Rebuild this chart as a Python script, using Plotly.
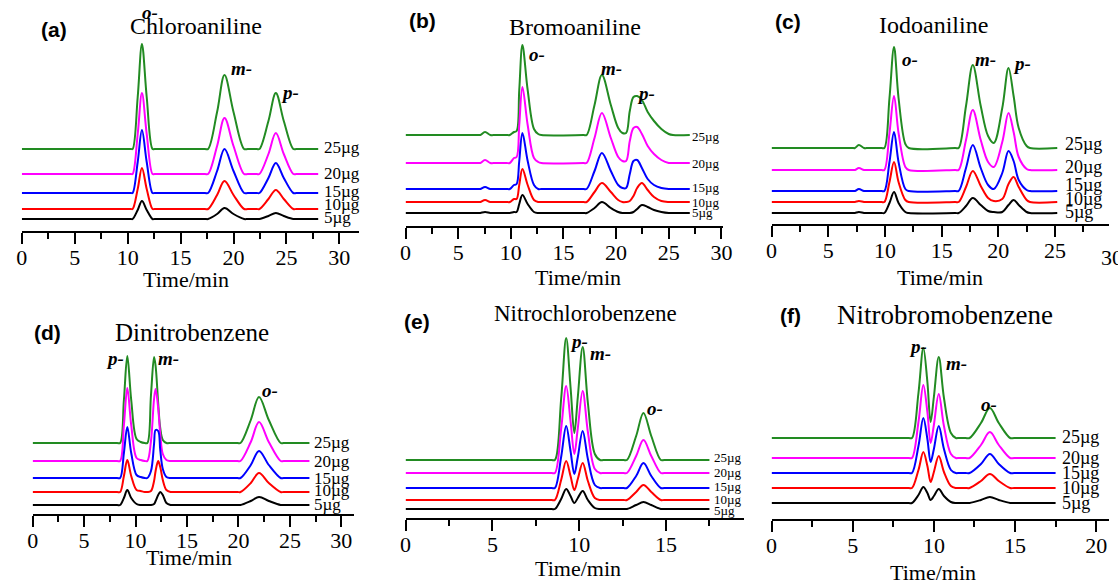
import plotly.graph_objects as go

W, H = 1118, 581

conc_labels = ["25µg", "20µg", "15µg", "10µg", "5µg"]
colors = ["#228B22", "#FF00FF", "#0000FF", "#FF0000", "#000000"]

# ---------------- data (retention time in min, signal above each trace's own baseline) ----------------
# (a) Chloroaniline
a_time = [0, 10.3, 10.47, 10.95, 11.35, 11.8, 12.35, 12.55, 17.3, 17.6, 18.45, 19.15, 20.0, 21.0, 21.35,
          22.2, 22.45, 23.3, 24.0, 24.75, 25.65, 25.95, 28.0]
a_25 = [0, 0, 0, 52, 105, 52, 0, 0, 0, 0, 37, 74, 37, 0, 0, 0, 0, 28, 56, 28, 0, 0, 0]
a_20 = [0, 0, 0, 40, 81, 40, 0, 0, 0, 0, 28, 56, 28, 0, 0, 0, 0, 20, 41, 20, 0, 0, 0]
a_15 = [0, 0, 0, 31, 63, 31, 0, 0, 0, 0, 22, 44, 22, 0, 0, 0, 0, 15, 30, 15, 0, 0, 0]
a_10 = [0, 0, 0, 20, 41, 20, 0, 0, 0, 0, 14, 28, 14, 0, 0, 0, 0, 10, 19, 10, 0, 0, 0]
a_5 = [0, 0, 0, 9, 18, 9, 0, 0, 0, 0, 5, 11, 5, 0, 0, 0, 0, 3, 6, 3, 0, 0, 0]
a_offset = [82, 57, 38, 22, 12]
a_peaks = ["o-", "m-", "p-"]

# (b) Bromoaniline
b_time = [0, 6.9, 7.1, 7.55, 8.05, 8.5, 8.8, 9.6, 9.9, 10.3, 10.55, 10.8, 11.1, 11.6, 12.2, 12.6, 12.9,
          16.9, 17.2, 17.95, 18.65, 19.5, 20.2, 20.6, 20.95, 21.3, 21.65, 22.0, 22.45, 23.0, 23.6, 24.3,
          25.0, 25.4, 27.0]
b_25 = [0, 0, 0, 3, 0, 0, 0, 0, 0, 3, 4, 45, 90, 45, 6, 1, 0, 0, 0, 30, 60, 30, 7, 2,
        2, 24, 38, 39, 35, 23, 14, 6, 1, 0, 0]
b_20 = [0, 0, 0, 3, 0, 0, 0, 0, 0, 5, 6, 38, 76, 38, 5, 1, 0, 0, 0, 25, 50, 25, 6, 2,
        2, 22, 35, 36, 29, 17, 9, 3, 0, 0, 0]
b_15 = [0, 0, 0, 2, 0, 0, 0, 0, 0, 4, 5, 28, 56, 28, 4, 0, 0, 0, 0, 18, 36, 18, 4, 1,
        1, 15, 28, 29, 21, 10, 4, 1, 0, 0, 0]
b_10 = [0, 0, 0, 2, 0, 0, 0, 0, 0, 3, 3, 17, 33, 17, 2, 0, 0, 0, 0, 10, 19, 10, 2, 0,
        0, 1, 6, 14, 19, 12, 5, 1, 0, 0, 0]
b_5 = [0, 0, 0, 1, 0, 0, 0, 0, 0, 1, 1, 9, 18, 9, 1, 0, 0, 0, 0, 5, 11, 5, 1, 0,
       0, 0, 1, 4, 8, 6, 3, 1, 0, 0, 0]
b_offset = [91, 63, 37, 24, 13]
b_peaks = ["o-", "m-", "p-"]

# (c) Iodoaniline
c_time = [0, 7.1, 7.35, 7.7, 8.15, 8.5, 8.8, 9.7, 9.95, 10.4, 10.8, 11.2, 11.8, 12.1, 16.2, 16.5, 17.15,
          17.75, 18.45, 19.1, 19.6, 20.35, 20.9, 21.35, 21.8, 22.5, 22.8, 25.2]
c_25 = [0, 0, 0, 3, 0, 0, 0, 0, 0, 50, 101, 50, 4, 0, 0, 0, 42, 83, 42, 12, 5, 40, 80, 52, 20, 2, 0, 0]
c_20 = [0, 0, 0, 2, 0, 0, 0, 0, 0, 37, 74, 37, 3, 0, 0, 0, 30, 60, 30, 8, 3, 28, 57, 38, 13, 1, 0, 0]
c_15 = [0, 0, 0, 2, 0, 0, 0, 0, 0, 29, 59, 29, 2, 0, 0, 0, 23, 46, 23, 6, 2, 18, 40, 30, 11, 1, 0, 0]
c_10 = [0, 0, 0, 1, 0, 0, 0, 0, 0, 20, 40, 20, 2, 0, 0, 0, 15, 31, 16, 4, 1, 3, 18, 25, 15, 2, 0, 0]
c_5 = [0, 0, 0, 1, 0, 0, 0, 0, 0, 10, 21, 10, 1, 0, 0, 0, 7, 15, 8, 2, 1, 1, 8, 13, 8, 1, 0, 0]
c_offset = [76, 54, 33, 22, 11]
c_peaks = ["o-", "m-", "p-"]

# (d) Dinitrobenzene
d_time = [0, 8.2, 8.5, 8.87, 9.2, 9.58, 10.1, 10.5, 10.9, 11.15, 11.5, 11.8, 11.95, 12.2, 12.4, 12.65,
          13.0, 13.4, 13.7, 19.9, 20.2, 21.2, 22.0, 22.95, 24.1, 24.4, 26.9]
d_25 = [0, 0, 0, 43, 87, 43, 4, 1, 0, 0, 48, 86, 77, 40, 15, 3, 0, 0, 0, 0, 0, 23, 46, 23, 0, 0, 0]
d_20 = [0, 0, 0, 36, 73, 36, 3, 1, 0, 0, 20, 62, 72, 53, 27, 7, 1, 0, 0, 0, 0, 19, 39, 19, 0, 0, 0]
d_15 = [0, 0, 0, 25, 51, 25, 3, 1, 0, 0, 7, 34, 48, 47, 28, 9, 1, 0, 0, 0, 0, 13, 27, 13, 0, 0, 0]
d_10 = [0, 0, 0, 16, 32, 16, 2, 1, 0, 0, 1, 11, 21, 31, 25, 12, 2, 0, 0, 0, 0, 9, 19, 9, 0, 0, 0]
d_5 = [0, 0, 0, 7, 15, 7, 1, 0, 0, 0, 0, 1, 4, 10, 13, 10, 2, 0, 0, 0, 0, 4, 8, 4, 0, 0, 0]
d_offset = [71, 53, 36, 22, 9]
d_peaks = ["p-", "m-", "o-"]

# (e) Nitrochlorobenzene
e_time = [0, 8.4, 8.6, 8.96, 9.25, 9.5, 9.72, 9.92, 10.2, 10.5, 10.9, 11.2, 11.4,
          12.55, 12.75, 13.28, 13.7, 14.15, 14.7, 14.9, 17.5]
e_25 = [0, 0, 0, 61, 122, 73, 27, 63, 113, 57, 6, 0, 0, 0, 0, 24, 47, 24, 0, 0, 0]
e_20 = [0, 0, 0, 44, 87, 52, 19, 45, 82, 41, 4, 0, 0, 0, 0, 17, 33, 17, 0, 0, 0]
e_15 = [0, 0, 0, 31, 62, 37, 14, 31, 57, 29, 3, 0, 0, 0, 0, 12, 25, 12, 0, 0, 0]
e_10 = [0, 0, 0, 20, 39, 24, 10, 21, 37, 19, 2, 0, 0, 0, 0, 8, 15, 8, 0, 0, 0]
e_5 = [0, 0, 0, 10, 20, 13, 6, 11, 18, 9, 1, 0, 0, 0, 0, 4, 7, 4, 0, 0, 0]
e_offset = [58, 45, 30, 18, 9]
e_peaks = ["p-", "m-", "o-"]

# (f) Nitrobromobenzene
f_time = [0, 8.45, 8.65, 9.05, 9.35, 9.6, 9.8, 10.0, 10.3, 10.62, 11.05, 11.35, 11.55,
          11.95, 12.2, 12.9, 13.45, 14.0, 14.7, 14.95, 17.5]
f_25 = [0, 0, 0, 45, 90, 56, 16, 41, 81, 40, 5, 0, 0, 0, 0, 15, 30, 15, 0, 0, 0]
f_20 = [0, 0, 0, 36, 73, 46, 15, 33, 64, 32, 4, 0, 0, 0, 0, 13, 26, 13, 0, 0, 0]
f_15 = [0, 0, 0, 27, 55, 34, 11, 24, 47, 24, 3, 0, 0, 0, 0, 9, 19, 9, 0, 0, 0]
f_10 = [0, 0, 0, 18, 36, 22, 6, 16, 32, 16, 2, 0, 0, 0, 0, 7, 14, 7, 0, 0, 0]
f_5 = [0, 0, 0, 8, 16, 10, 3, 7, 14, 7, 1, 0, 0, 0, 0, 3, 6, 3, 0, 0, 0]
f_offset = [81, 61, 46, 31, 16]
f_peaks = ["p-", "m-", "o-"]

panels = [
    dict(tag="(a)", title="Chloroaniline", time=a_time, ys=[a_25, a_20, a_15, a_10, a_5], off=a_offset, peaks=a_peaks),
    dict(tag="(b)", title="Bromoaniline", time=b_time, ys=[b_25, b_20, b_15, b_10, b_5], off=b_offset, peaks=b_peaks),
    dict(tag="(c)", title="Iodoaniline", time=c_time, ys=[c_25, c_20, c_15, c_10, c_5], off=c_offset, peaks=c_peaks),
    dict(tag="(d)", title="Dinitrobenzene", time=d_time, ys=[d_25, d_20, d_15, d_10, d_5], off=d_offset, peaks=d_peaks),
    dict(tag="(e)", title="Nitrochlorobenzene", time=e_time, ys=[e_25, e_20, e_15, e_10, e_5], off=e_offset, peaks=e_peaks),
    dict(tag="(f)", title="Nitrobromobenzene", time=f_time, ys=[f_25, f_20, f_15, f_10, f_5], off=f_offset, peaks=f_peaks),
]

# ---------------- layout geometry (pixels) ----------------
geo = [
    dict(x0=16, ppm=10.73, axis=231, top=0, xend=358, title=(193, 26, 24), tag=(49, 29),
         peaks=[(146, 13), (239, 69), (288, 92)], cx=320, cy=[147, 173, 191, 204, 217], cs=17, xt=(182, 279)),
    dict(x0=405, ppm=10.67, axis=226, top=0, xend=727, title=(577, 27, 24), tag=(422, 20),
         peaks=[(538, 54), (614, 68), (649, 94)], cx=693, cy=[137, 164, 188, 202, 213], cs=13, xt=(580, 277)),
    dict(x0=776, ppm=11.49, axis=224, top=0, xend=1118, title=(940, 25, 24), tag=(793, 21),
         peaks=[(916, 59), (993, 60), (1030, 63)], cx=1071, cy=[144, 167, 185, 199, 212], cs=18, xt=(947, 277)),
    dict(x0=27, ppm=10.43, axis=514, top=290, xend=353, title=(189, 332, 25), tag=(42, 332),
         peaks=[(110, 358), (165, 358), (268, 390)], cx=310, cy=[443, 461, 478, 490, 504], cs=17, xt=(185, 557)),
    dict(x0=405, ppm=17.6, axis=518, top=290, xend=748, title=(587, 313, 23), tag=(417, 321),
         peaks=[(581, 341), (603, 354), (658, 409)], cx=716, cy=[457, 472, 486, 499, 510], cs=13, xt=(580, 568)),
    dict(x0=776, ppm=16.45, axis=519, top=290, xend=1118, title=(952, 315, 27), tag=(795, 315),
         peaks=[(924, 346), (963, 363), (996, 404)], cx=1068, cy=[437, 458, 473, 488, 503], cs=18, xt=(940, 572)),
]

SERIF = "Liberation Serif"
SANS = "Liberation Sans"


def fx(px):
    return px / W


def fy(py):
    return 1 - py / H


fig = go.Figure()
layout = dict(width=W, height=H, margin=dict(l=0, r=0, t=0, b=0),
              paper_bgcolor="white", plot_bgcolor="white", showlegend=False,
              font=dict(family=SERIF, color="black"))
annotations = []

for i, (p, g) in enumerate(zip(panels, geo)):
    n = "" if i == 0 else str(i + 1)
    xref, yref = "x" + n, "y" + n
    xmax = (g["xend"] - g["x0"]) / g["ppm"]
    layout["xaxis" + n] = dict(
        domain=[fx(g["x0"]), fx(g["xend"])], range=[0, xmax], anchor=yref,
        showgrid=False, zeroline=False, showline=True, linecolor="black", linewidth=2,
        ticks="outside", ticklen=11, tickwidth=2, tickcolor="black",
        tick0=0, dtick=5, tickfont=dict(family=SERIF, size=22, color="black"),
        ticklabelstandoff=-5,
        minor=dict(ticks="outside", ticklen=6, tickwidth=2, tickcolor="black", dtick=2.5),
        fixedrange=True,
    )
    layout["yaxis" + n] = dict(
        domain=[fy(g["axis"]), fy(g["top"])], range=[0, g["axis"] - g["top"]], anchor=xref,
        visible=False, fixedrange=True,
    )
    for k in range(5):
        fig.add_trace(go.Scatter(
            x=p["time"], y=[p["off"][k] + v for v in p["ys"][k]], mode="lines",
            line=dict(color=colors[k], width=2, shape="spline", smoothing=1),
            xaxis=xref, yaxis=yref, hoverinfo="skip", showlegend=False,
        ))
        annotations.append(dict(
            text=conc_labels[k], x=fx(g["cx"]), y=fy(g["cy"][k]), xref="paper", yref="paper",
            xanchor="left", yanchor="middle", showarrow=False,
            font=dict(family=SERIF, size=g["cs"], color="black"),
        ))
    tx, ty, ts = g["title"]
    annotations.append(dict(text=p["title"], x=fx(tx), y=fy(ty), xref="paper", yref="paper",
                            xanchor="center", yanchor="middle", showarrow=False,
                            font=dict(family=SERIF, size=ts, color="black")))
    annotations.append(dict(text="<b>" + p["tag"] + "</b>", x=fx(g["tag"][0]), y=fy(g["tag"][1]),
                            xref="paper", yref="paper", xanchor="center", yanchor="middle",
                            showarrow=False, font=dict(family=SANS, size=21, color="black")))
    for name, (px_, py_) in zip(p["peaks"], g["peaks"]):
        annotations.append(dict(text="<b><i>" + name + "</i></b>", x=fx(px_), y=fy(py_),
                                xref="paper", yref="paper", xanchor="center", yanchor="middle",
                                showarrow=False, font=dict(family=SERIF, size=19, color="black")))
    annotations.append(dict(text="Time/min", x=fx(g["xt"][0]), y=fy(g["xt"][1]), xref="paper", yref="paper",
                            xanchor="center", yanchor="middle", showarrow=False,
                            font=dict(family=SERIF, size=22, color="black")))

# partially cut tick label at the right edge of panel (c)
annotations.append(dict(text="30", x=fx(776 + 30 * 11.49), y=fy(257), xref="paper", yref="paper",
                        xanchor="center", yanchor="middle", showarrow=False,
                        font=dict(family=SERIF, size=22, color="black")))

layout["annotations"] = annotations
fig.update_layout(**layout)
fig.write_html("out.html")
